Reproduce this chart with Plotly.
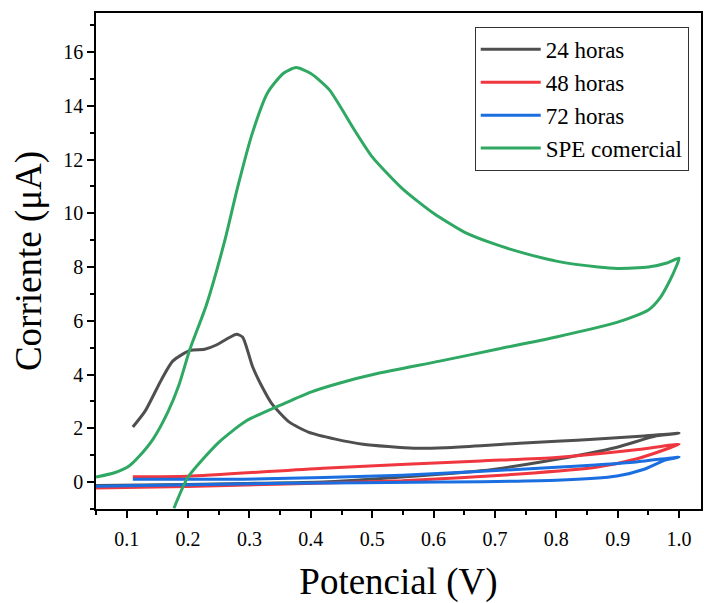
import plotly.graph_objects as go

# 24 horas (forward then reverse)
x24 = [0.11, 0.13, 0.157, 0.175, 0.203, 0.227, 0.246, 0.265, 0.279, 0.289, 0.305, 0.321, 0.337, 0.365,
       0.396, 0.44, 0.485, 0.568, 0.62, 0.677, 0.74, 0.80, 0.867, 0.943, 1.0,
       0.963, 0.899, 0.803, 0.677, 0.549, 0.42, 0.293, 0.198, 0.05]
y24 = [2.05, 2.64, 3.83, 4.5, 4.9, 4.94, 5.1, 5.35, 5.5, 5.39, 4.3, 3.53, 2.9, 2.23,
       1.86, 1.6, 1.41, 1.26, 1.28, 1.35, 1.45, 1.52, 1.6, 1.72, 1.82,
       1.72, 1.3, 0.86, 0.42, 0.19, 0.0, -0.05, -0.09, -0.13]

# 48 horas
x48 = [0.11, 0.2, 0.42, 0.677, 0.80, 0.93, 1.0,
       0.982, 0.93, 0.867, 0.74, 0.549, 0.36, 0.198, 0.05]
y48 = [0.2, 0.22, 0.52, 0.79, 0.92, 1.2, 1.41,
       1.25, 0.86, 0.56, 0.3, 0.05, -0.07, -0.16, -0.22]

# 72 horas
x72 = [0.11, 0.29, 0.549, 0.80, 0.93, 1.0,
       0.977, 0.943, 0.899, 0.80, 0.61, 0.36, 0.05]
y72 = [0.11, 0.11, 0.26, 0.55, 0.75, 0.93,
       0.82, 0.48, 0.23, 0.07, 0.0, -0.04, -0.15]

# SPE comercial
xspe = [0.05, 0.08, 0.104, 0.12, 0.143, 0.167, 0.185, 0.203, 0.23, 0.26, 0.28, 0.305, 0.33, 0.355, 0.376,
        0.40, 0.43, 0.471, 0.5, 0.55, 0.6, 0.65, 0.7, 0.75, 0.8, 0.868, 0.9, 0.95, 0.98, 1.0,
        0.995, 0.985, 0.969, 0.95, 0.9, 0.8, 0.705, 0.61, 0.51, 0.446, 0.4, 0.359, 0.295, 0.25, 0.2, 0.177]
yspe = [0.19, 0.35, 0.6, 0.95, 1.6, 2.6, 3.6, 4.94, 6.6, 9.0, 10.9, 13.0, 14.5, 15.2, 15.42,
        15.2, 14.6, 13.1, 12.1, 10.9, 10.0, 9.3, 8.85, 8.5, 8.22, 8.0, 7.95, 8.0, 8.15, 8.33,
        8.0, 7.5, 6.85, 6.4, 5.95, 5.4, 4.95, 4.5, 4.05, 3.68, 3.35, 2.95, 2.28, 1.48, 0.19, -0.97]

names = ["24 horas", "48 horas", "72 horas", "SPE comercial"]
colors = ["#4f4f4f", "#f0363f", "#1a6ee0", "#2ea862"]
series = [(x24, y24), (x48, y48), (x72, y72), (xspe, yspe)]

fig = go.Figure()
for (xs, ys), n, c in zip(series, names, colors):
    fig.add_trace(go.Scatter(x=xs, y=ys, mode="lines", name=n,
                             line=dict(color=c, width=3, shape="spline", smoothing=0.6)))

font = "Liberation Serif"
fig.update_layout(
    width=704, height=603,
    margin=dict(l=96, r=1, t=13, b=94),
    paper_bgcolor="white", plot_bgcolor="white",
    font=dict(family=font, color="black", size=20),
    showlegend=True,
    legend=dict(x=0.626, y=0.972, xanchor="left", yanchor="top",
                bordercolor="#333333", borderwidth=1, bgcolor="white",
                font=dict(family=font, size=23, color="black"),
                itemwidth=60, tracegroupgap=0),
)
fig.update_xaxes(
    range=[0.05, 1.0357], showgrid=False, zeroline=False,
    showline=True, linecolor="black", linewidth=1.5, mirror=True,
    ticks="outside", ticklen=7, tickwidth=1.5, tickcolor="black",
    tick0=0.1, dtick=0.1, tickformat=".1f", ticklabelstandoff=4,
    minor=dict(ticks="outside", ticklen=4, tickwidth=1.5, tickcolor="black", dtick=0.05, tick0=0.05, showgrid=False),
    title=dict(text="Potencial (V)", font=dict(family=font, size=37, color="black"), standoff=20),
    tickfont=dict(family=font, size=20, color="black"),
)
fig.update_yaxes(
    range=[-1, 17.45], showgrid=False, zeroline=False,
    showline=True, linecolor="black", linewidth=1.5, mirror=True,
    ticks="outside", ticklen=7, tickwidth=1.5, tickcolor="black",
    tick0=0, dtick=2,
    minor=dict(ticks="outside", ticklen=4, tickwidth=1.5, tickcolor="black", dtick=1, showgrid=False),
    title=dict(text="Corriente (μA)", font=dict(family=font, size=37, color="black"), standoff=10),
    tickfont=dict(family=font, size=20, color="black"),
)

fig.write_html("out.html",
               post_script="document.body.style.margin='0';document.body.style.overflow='hidden';")
